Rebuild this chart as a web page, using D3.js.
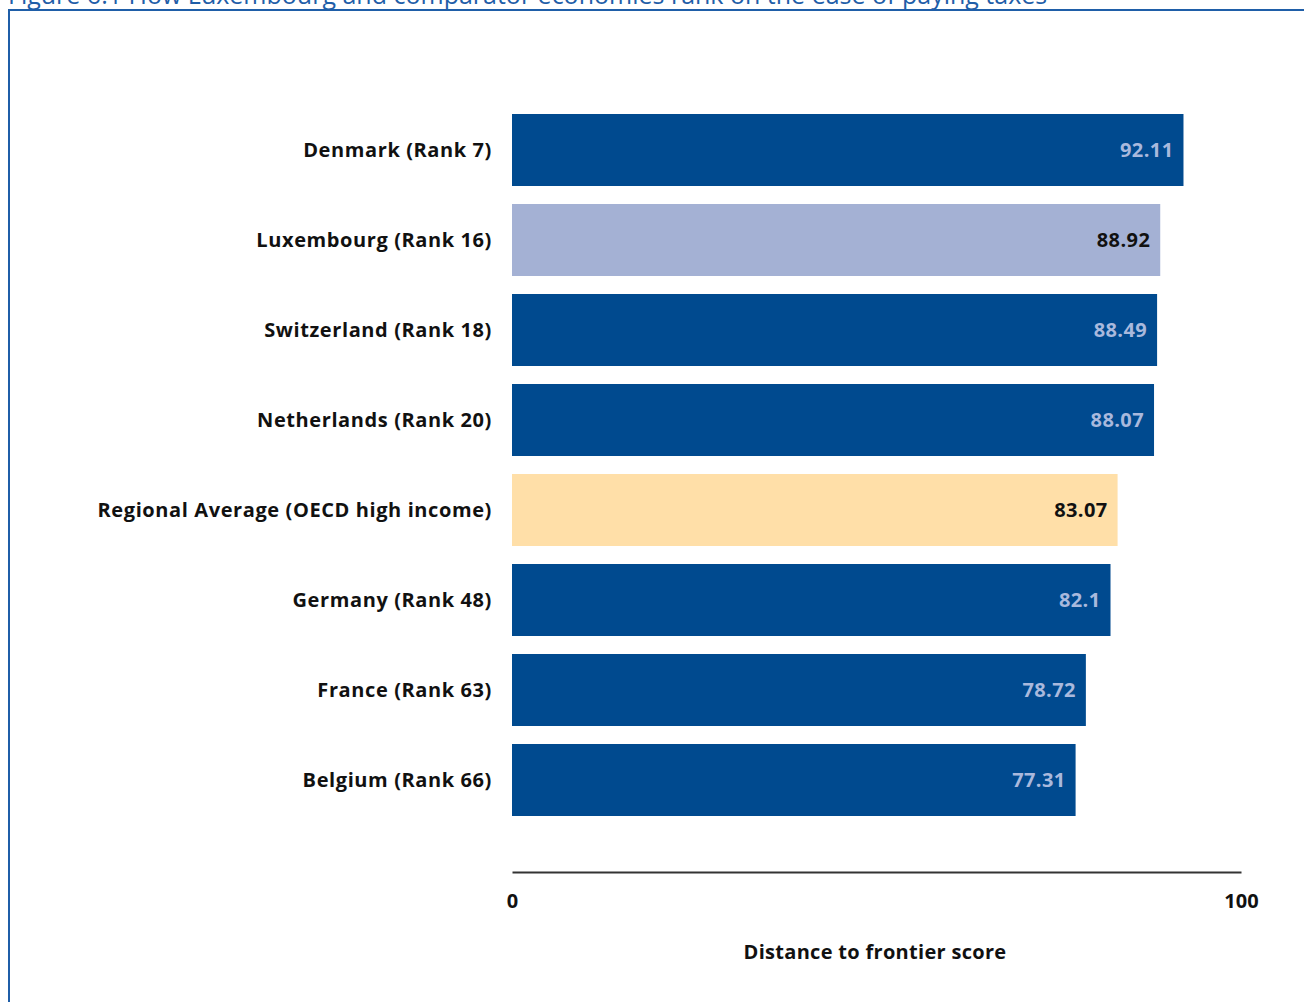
<!DOCTYPE html>
<html><head><meta charset="utf-8">
<script src="https://cdn.jsdelivr.net/npm/d3@7"></script>
<style>body{margin:0;background:#fff;} svg{display:block;}</style>
</head><body>
<script>
const categories = ["Denmark (Rank 7)","Luxembourg (Rank 16)","Switzerland (Rank 18)","Netherlands (Rank 20)","Regional Average (OECD high income)","Germany (Rank 48)","France (Rank 63)","Belgium (Rank 66)"];
const values = [92.11, 88.92, 88.49, 88.07, 83.07, 82.1, 78.72, 77.31];
const valueLabels = ["92.11","88.92","88.49","88.07","83.07","82.1","78.72","77.31"];
const kinds = ["other","focus","other","other","average","other","other","other"];
const tickValues = [0, 100];
const title = "Figure 6.1 How Luxembourg and comparator economies rank on the ease of paying taxes";
const axisTitle = "Distance to frontier score";

const W = 1304, H = 1002;
const svg = d3.select("body").append("svg").attr("width", W).attr("height", H);
const font = "'Open Sans', 'Liberation Sans', sans-serif";

// frame
svg.append("path").attr("d", `M9,1002 V10 H1304`).attr("fill","none").attr("stroke","#1f5ea8").attr("stroke-width",2);
svg.append("text").attr("x", 8).attr("y", 4).attr("font-family", font).attr("font-size", 25)
  .attr("fill", "#1f5ea8").text(title);

const x = d3.scaleLinear().domain([0, 100]).range([512, 1241]);
const y = d3.scaleBand().domain(categories).range([105, 825]).paddingInner(0.2).paddingOuter(0.1);

const fillFor = k => k === "focus" ? "#a4b1d4" : k === "average" ? "#ffdfa8" : "#004a8f";
const textFor = k => k === "other" ? "#a9b9dd" : "#111";

const g = svg.append("g");
g.selectAll("rect").data(categories).join("rect")
  .attr("x", x(0)).attr("y", d => y(d)).attr("width", (d,i) => x(values[i]) - x(0))
  .attr("height", y.bandwidth()).attr("fill", (d,i) => fillFor(kinds[i]));

g.selectAll("text.val").data(categories).join("text").attr("class","val")
  .attr("x", (d,i) => x(values[i]) - 10).attr("y", d => y(d) + y.bandwidth()/2)
  .attr("dy", "0.35em").attr("text-anchor","end").attr("font-family", font)
  .attr("font-weight","bold").attr("font-size", 20).attr("letter-spacing", "0.4")
  .attr("fill", (d,i) => textFor(kinds[i])).text((d,i) => valueLabels[i]);

g.selectAll("text.cat").data(categories).join("text").attr("class","cat")
  .attr("x", 492).attr("y", d => y(d) + y.bandwidth()/2)
  .attr("dy", "0.35em").attr("text-anchor","end").attr("font-family", font)
  .attr("font-weight","bold").attr("font-size", 20).attr("letter-spacing", "0.6")
  .attr("fill", "#111").text(d => d);

// axis
const axis = d3.axisBottom(x).tickValues(tickValues).tickSize(0).tickPadding(22).tickFormat(d3.format("d"));
const ag = svg.append("g").attr("transform", "translate(0,872)").call(axis);
ag.select(".domain").attr("stroke", "#333").attr("stroke-width", 2);
ag.selectAll("text").attr("font-family", font).attr("font-weight","bold").attr("font-size", 20).attr("fill","#111");

svg.append("text").attr("x", 875).attr("y", 959).attr("text-anchor","middle")
  .attr("font-family", font).attr("font-weight","bold").attr("font-size", 20).attr("letter-spacing", "0.3")
  .attr("fill","#111").text(axisTitle);
</script>
</body></html>
